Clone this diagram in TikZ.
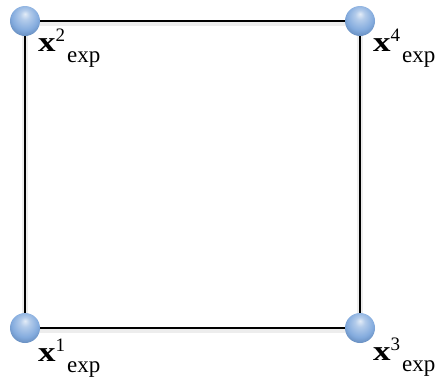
\documentclass[tikz,border=0pt]{standalone}
\usepackage{graphicx}
\usepackage{fontspec}
\setmainfont{Liberation Serif}
\usetikzlibrary{backgrounds}
\definecolor{sphb}{RGB}{118,162,218}
\pgfdeclareradialshading{sphere}{\pgfpoint{0bp}{12bp}}{%
  color(0bp)=(sphb!20!white); color(8bp)=(sphb!55!white);
  color(22bp)=(sphb!90!white); color(30bp)=(sphb!88!black);
  color(50bp)=(sphb!80!black)}
\newcommand{\xexp}[1]{\scalebox{1.25}[1]{\fontsize{28}{28}\selectfont\bfseries x}%
  \raisebox{10pt}{\fontsize{19}{19}\selectfont #1}\hspace{2pt}%
  \raisebox{-11pt}{\fontsize{23}{23}\selectfont exp}}
\begin{document}
\begin{tikzpicture}[x=1pt, y=-1pt,
    main/.style = {circle, minimum size=30pt, inner sep=0pt, shading=sphere},
    lbl/.style = {anchor=base west, inner sep=0pt}]
\useasboundingbox (0,0) rectangle (439,378);
\node[main] (1) at (25,328) {};
\node[main] (2) at (25,21) {};
\node[main] (3) at (360,328) {};
\node[main] (4) at (360,21) {};
\begin{scope}[on background layer]
  % soft shadow under the edges
  \draw[black!7, line width=6pt, transform canvas={yshift=-2pt}] (2.center) -- (4.center) -- (3.center) -- (1.center) -- cycle;
  \draw[line width=1.6pt] (2.center) -- (4.center) -- (3.center) -- (1.center) -- cycle;
\end{scope}
\node[lbl] (l1) at (38,361) {\xexp{1}};
\node[lbl] (l2) at (38,51) {\xexp{2}};
\node[lbl] (l3) at (373,360) {\xexp{3}};
\node[lbl] (l4) at (373,51) {\xexp{4}};
\end{tikzpicture}
\end{document}
